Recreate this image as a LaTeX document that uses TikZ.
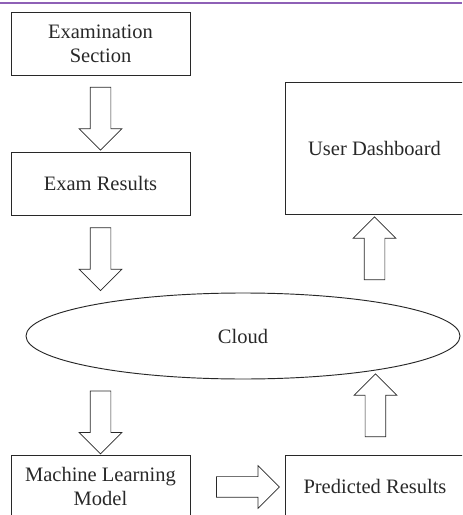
\documentclass[tikz,border=0pt]{standalone}
\usepackage{fontspec}
\setmainfont{Liberation Serif}
\usetikzlibrary{shapes.geometric,shapes.arrows,calc}

\newcommand{\px}{0.03cm}
\definecolor{pagerule}{RGB}{142,96,182}
\definecolor{inkgray}{RGB}{40,40,40}

\tikzset{
	box/.style = {draw=inkgray, rectangle, line width=0.8pt, minimum width=179*\px,
		minimum height=63*\px, align=center, inner sep=0pt},
	fatarrow/.style = {draw=inkgray, single arrow, line width=0.6pt, inner xsep=0pt, inner ysep=10*\px,
		minimum height=63*\px, single arrow head extend=11*\px}
}

\begin{document}
\begin{tikzpicture}[
					x = \px, y = -\px,
					every node/.style = {font=\fontsize{17.5}{20.5}\selectfont, text=inkgray}]

					\useasboundingbox (0,0) rectangle (462,515);
					\clip (0,0) rectangle (462,515);

					\draw[pagerule, line width=1.5pt] (0,3) -- (462,3);

					% left column
					\node[box] (exam) at (100.5,43.5) {Examination\\Section};
					\node[box] (results) at (100.5,183.5) {Exam Results};
					\node[draw=inkgray, ellipse, line width=0.8pt, minimum width=434*\px,
						minimum height=86*\px] (cloud) at (243,336) {Cloud};
					\node[box, anchor=north] (ml) at (100.5,455) {Machine Learning\\Model};

					% right column
					\node[box, anchor=north west] (pred) at (285,455) {Predicted Results};
					\node[box, minimum height=132*\px] (dash) at (374.5,148) {User Dashboard};

					% block arrows
					\node[fatarrow, rotate=-90] (a1) at ($(exam.south)!0.5!(results.north)$) {};
					\node[fatarrow, rotate=-90] (a2) at ($(results.south)!0.5!(cloud.north -| results.south)$) {};
					\node[fatarrow, rotate=-90] (a3) at ($(cloud.south -| ml.north)!0.5!(ml.north)$) {};
					\node[fatarrow, xshift=5*\px] (a4) at ($(ml.east)!0.5!(pred.west)$) {};
					\node[fatarrow, rotate=90] (a5) at ($(pred.north)+(0.5,-44.5)$) {};
					\node[fatarrow, rotate=90] (a6) at ($(dash.south)!0.5!(cloud.north -| dash.south)$) {};

				\end{tikzpicture}
\end{document}
